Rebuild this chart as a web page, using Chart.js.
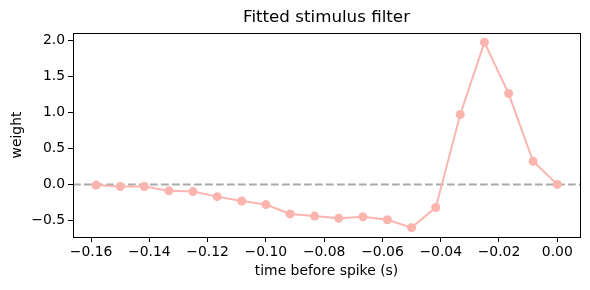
<!DOCTYPE html>
<html>
<head>
<meta charset="utf-8">
<script src="https://cdn.jsdelivr.net/npm/chart.js@4/dist/chart.umd.min.js"></script>
<style>
  html, body { margin: 0; padding: 0; background: #fff; }
  #wrap { width: 590px; height: 290px; }
</style>
</head>
<body>
<div id="wrap"><canvas id="filterChart" width="590" height="290"></canvas></div>
<script>
// time before spike (s), 1/120 s bins
const lags = [-0.1583, -0.1500, -0.1417, -0.1333, -0.1250, -0.1167, -0.1083, -0.1000, -0.0917, -0.0833,
              -0.0750, -0.0667, -0.0583, -0.0500, -0.0417, -0.0333, -0.0250, -0.0167, -0.0083, 0.0000];
// fitted filter weights
const weights = [-0.01, -0.03, -0.03, -0.09, -0.10, -0.17, -0.23, -0.28, -0.41, -0.44,
                 -0.47, -0.45, -0.49, -0.60, -0.32, 0.97, 1.97, 1.26, 0.32, 0.00];
const xTicks = [-0.16, -0.14, -0.12, -0.10, -0.08, -0.06, -0.04, -0.02, 0.00];
const yTicks = [-0.5, 0.0, 0.5, 1.0, 1.5, 2.0];
const baseline = 0;
const titleText = "Fitted stimulus filter";

const FONT = "'DejaVu Sans', sans-serif";
const fmt = (v, d) => v.toFixed(d).replace("-", "\u2212");

// frame on all four sides, dashed zero line, title centred over the axes
const framePlugin = {
    id: "frame",
    beforeDatasetsDraw(chart) {
        const ctx = chart.ctx, a = chart.chartArea;
        const y0 = chart.scales.y.getPixelForValue(baseline);
        ctx.save();
        ctx.strokeStyle = "#aaaaaa";
        ctx.lineWidth = 2;
        ctx.setLineDash([7.7, 3.3]);
        ctx.beginPath();
        ctx.moveTo(a.left, y0);
        ctx.lineTo(a.right, y0);
        ctx.stroke();
        ctx.restore();
    },
    afterDraw(chart) {
        const ctx = chart.ctx, a = chart.chartArea;
        ctx.save();
        ctx.strokeStyle = "#000";
        ctx.lineWidth = 1;
        ctx.strokeRect(Math.round(a.left) + 0.5, Math.round(a.top) + 0.5,
                       Math.round(a.right - a.left), Math.round(a.bottom - a.top));
        ctx.fillStyle = "#000";
        ctx.font = "16.7px " + FONT;
        ctx.textAlign = "center";
        ctx.textBaseline = "middle";
        ctx.fillText(titleText, (a.left + a.right) / 2, 18);
        ctx.restore();
    }
};

let ctx = document.getElementById("filterChart").getContext("2d");
new Chart(ctx, {
    type: "line",
    data: {
        datasets: [{
            data: lags.map((t, i) => ({ x: t, y: weights[i] })),
            borderColor: "#fbb4ae",
            backgroundColor: "#fbb4ae",
            borderWidth: 2,
            pointRadius: 4.5,
            pointBorderWidth: 0,
            pointHoverRadius: 4.5,
            tension: 0,
            fill: false
        }]
    },
    options: {
        responsive: false,
        animation: false,
        layout: { padding: { left: 0, right: 10, top: 33, bottom: 0 } },
        plugins: {
            legend: { display: false },
            tooltip: { enabled: false },
            title: { display: false }
        },
        scales: {
            x: {
                type: "linear",
                min: -0.1662,
                max: 0.0078,
                afterBuildTicks: s => { s.ticks = xTicks.map(v => ({ value: v })); },
                afterFit: s => { s.height = 53; },
                grid: { drawOnChartArea: false, drawTicks: true, tickLength: 5, tickColor: "#000" },
                border: { display: false },
                ticks: {
                    color: "#000",
                    padding: 2,
                    maxRotation: 0,
                    font: { family: FONT, size: 13.9 },
                    callback: v => fmt(v, 2)
                },
                title: {
                    display: true,
                    text: "time before spike (s)",
                    color: "#000",
                    font: { family: FONT, size: 13.9 },
                    padding: { top: 0, bottom: 10 }
                }
            },
            y: {
                min: -0.73,
                max: 2.10,
                afterBuildTicks: s => { s.ticks = yTicks.map(v => ({ value: v })); },
                afterFit: s => { s.width = 73; },
                grid: { drawOnChartArea: false, drawTicks: true, tickLength: 5, tickColor: "#000" },
                border: { display: false },
                ticks: {
                    color: "#000",
                    padding: 3,
                    font: { family: FONT, size: 13.9 },
                    callback: v => fmt(v, 1)
                },
                title: {
                    display: true,
                    text: "weight",
                    color: "#000",
                    font: { family: FONT, size: 13.9 },
                    padding: { top: 9, bottom: 0 }
                }
            }
        }
    },
    plugins: [framePlugin]
});
</script>
</body>
</html>
